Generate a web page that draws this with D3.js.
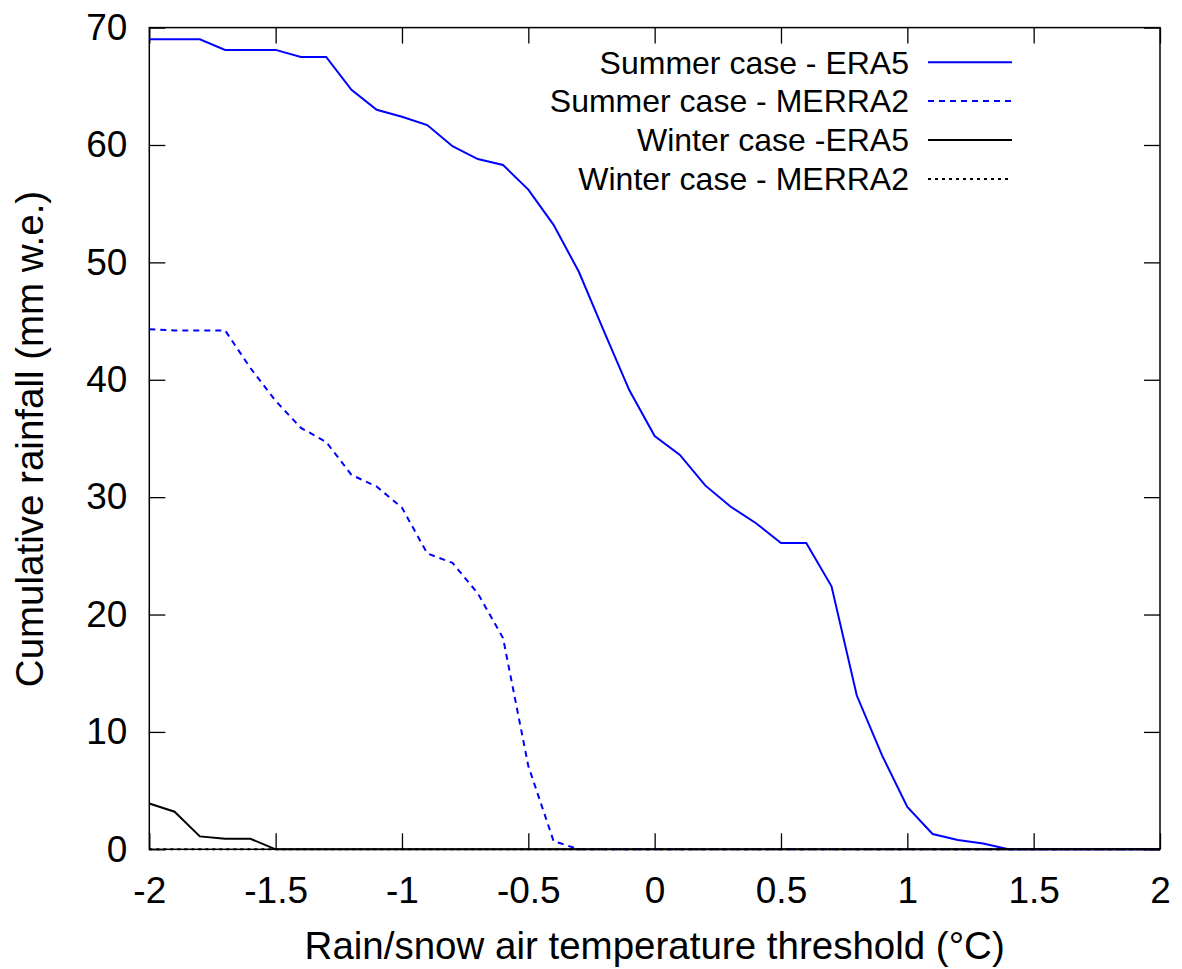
<!DOCTYPE html>
<html>
<head>
<meta charset="utf-8">
<script src="https://cdn.jsdelivr.net/npm/d3@7"></script>
<style>
  html, body { margin: 0; padding: 0; background: #fff; }
  svg { display: block; font-family: 'Liberation Sans', Arial, sans-serif; }
</style>
</head>
<body>
<div id="chart"></div>
<script>
// rain/snow threshold temperatures (°C)
const temps = [-2.0, -1.9, -1.8, -1.7, -1.6, -1.5, -1.4, -1.3, -1.2, -1.1,
               -1.0, -0.9, -0.8, -0.7, -0.6, -0.5, -0.4, -0.3, -0.2, -0.1,
                0.0,  0.1,  0.2,  0.3,  0.4,  0.5,  0.6,  0.7,  0.8,  0.9,
                1.0,  1.1,  1.2,  1.3,  1.4,  1.5,  1.6,  1.7,  1.8,  1.9, 2.0];

const summerEra5 = [69.0, 69.0, 69.0, 68.1, 68.1, 68.1, 67.5, 67.5, 64.7, 63.0,
                    62.4, 61.7, 59.9, 58.8, 58.3, 56.2, 53.2, 49.2, 44.1, 39.1,
                    35.2, 33.6, 31.0, 29.2, 27.8, 26.1, 26.1, 22.4, 13.1, 8.0,
                    3.6, 1.3, 0.8, 0.5, 0, 0, 0, 0, 0, 0, 0];

const summerMerra2 = [44.3, 44.2, 44.2, 44.2, 41.0, 38.2, 35.9, 34.7, 31.9, 30.9,
                      29.1, 25.2, 24.4, 21.8, 18.0, 7.1, 0.7, 0, 0, 0,
                      0, 0, 0, 0, 0, 0, 0, 0, 0, 0,
                      0, 0, 0, 0, 0, 0, 0, 0, 0, 0, 0];

const winterEra5 = [3.9, 3.2, 1.1, 0.9, 0.9, 0, 0, 0, 0, 0,
                    0, 0, 0, 0, 0, 0, 0, 0, 0, 0,
                    0, 0, 0, 0, 0, 0, 0, 0, 0, 0,
                    0, 0, 0, 0, 0, 0, 0, 0, 0, 0, 0];

const winterMerra2 = [0, 0, 0, 0, 0, 0, 0, 0, 0, 0,
                      0, 0, 0, 0, 0, 0, 0, 0, 0, 0,
                      0, 0, 0, 0, 0, 0, 0, 0, 0, 0,
                      0, 0, 0, 0, 0, 0, 0, 0, 0, 0, 0];

const xTicks = [-2, -1.5, -1, -0.5, 0, 0.5, 1, 1.5, 2];
const yTicks = [0, 10, 20, 30, 40, 50, 60, 70];

const series = [
    { label: 'Summer case - ERA5',   values: summerEra5,   color: '#0000ff', dash: null },
    { label: 'Summer case - MERRA2', values: summerMerra2, color: '#0000ff', dash: '6,5' },
    { label: 'Winter case -ERA5',    values: winterEra5,   color: '#000000', dash: null },
    { label: 'Winter case - MERRA2', values: winterMerra2, color: '#000000', dash: '3,4' }
];

const totalWidth = 1182;
const totalHeight = 969;
const margin = { top: 27.6, right: 22, bottom: 119.7, left: 149.3 };
const width  = totalWidth - margin.left - margin.right;
const height = totalHeight - margin.top - margin.bottom;

const svg = d3.select('#chart')
    .append('svg')
    .attr('width', totalWidth)
    .attr('height', totalHeight);

const g = svg.append('g')
    .attr('transform', 'translate(' + margin.left + ',' + margin.top + ')');

const x = d3.scaleLinear().domain([-2, 2]).range([0, width]);
const y = d3.scaleLinear().domain([0, 70]).range([height, 0]);

const tickLen = 16;
const fontSize = 37;
const titleSize = 38.5;

// bottom axis with labels, ticks pointing inward
const xAxis = g.append('g')
    .attr('transform', 'translate(0,' + height + ')')
    .call(d3.axisBottom(x).tickValues(xTicks).tickSizeInner(-tickLen).tickSizeOuter(0).tickPadding(27)
        .tickFormat(function(d) { return d3.format('')(d).replace('−', '-'); }));

const yAxis = g.append('g')
    .call(d3.axisLeft(y).tickValues(yTicks).tickSizeInner(-tickLen).tickSizeOuter(0).tickPadding(22));

// mirrored ticks on top and right
const xTop = g.append('g')
    .call(d3.axisTop(x).tickValues(xTicks).tickSizeInner(-tickLen).tickSizeOuter(0).tickFormat(''));

const yRight = g.append('g')
    .attr('transform', 'translate(' + width + ',0)')
    .call(d3.axisRight(y).tickValues(yTicks).tickSizeInner(-tickLen).tickSizeOuter(0).tickFormat(''));

[xAxis, yAxis, xTop, yRight].forEach(function(ax) {
    ax.select('.domain').remove();
    ax.selectAll('line').attr('stroke', '#000').attr('stroke-width', 1.3);
    ax.selectAll('text')
        .attr('fill', '#000')
        .style('font-size', fontSize + 'px')
        .style('font-family', "'Liberation Sans', Arial, sans-serif");
});

// data lines
const line = d3.line()
    .x(function(d) { return x(d.t); })
    .y(function(d) { return y(d.v); });

series.forEach(function(s) {
    const data = temps.map(function(t, i) { return { t: t, v: s.values[i] }; });
    g.append('path')
        .datum(data)
        .attr('fill', 'none')
        .attr('stroke', s.color)
        .attr('stroke-width', 2)
        .attr('stroke-dasharray', s.dash)
        .attr('d', line);
});

// frame
g.append('rect')
    .attr('x', 0)
    .attr('y', 0)
    .attr('width', width)
    .attr('height', height)
    .attr('fill', 'none')
    .attr('stroke', '#000')
    .attr('stroke-width', 1.5);

// legend
const legendRowY = [62.3, 101, 140, 179];
const legend = svg.append('g');
series.forEach(function(s, i) {
    const yy = legendRowY[i];
    legend.append('text')
        .attr('x', 909)
        .attr('y', yy)
        .attr('dy', '0.35em')
        .attr('text-anchor', 'end')
        .style('font-size', '32px')
        .attr('fill', '#000')
        .text(s.label);
    legend.append('line')
        .attr('x1', 928)
        .attr('x2', 1012)
        .attr('y1', yy)
        .attr('y2', yy)
        .attr('stroke', s.color)
        .attr('stroke-width', 2)
        .attr('stroke-dasharray', s.dash);
});

// axis titles
svg.append('text')
    .attr('x', margin.left + width / 2)
    .attr('y', 959)
    .attr('text-anchor', 'middle')
    .style('font-size', titleSize + 'px')
    .attr('fill', '#000')
    .text('Rain/snow air temperature threshold (°C)');

svg.append('text')
    .attr('transform', 'translate(43,' + 439 + ') rotate(-90)')
    .attr('text-anchor', 'middle')
    .style('font-size', titleSize + 'px')
    .attr('fill', '#000')
    .text('Cumulative rainfall (mm w.e.)');
</script>
</body>
</html>
